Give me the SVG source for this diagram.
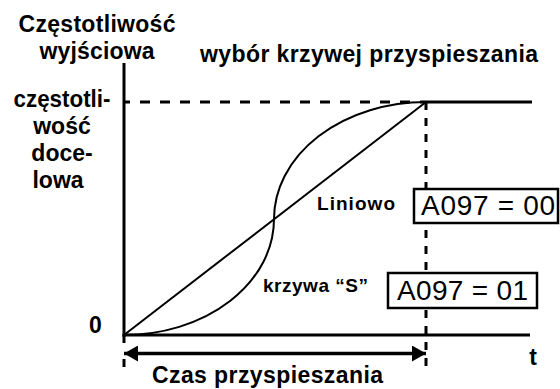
<svg xmlns="http://www.w3.org/2000/svg" width="560" height="389" viewBox="0 0 560 389">
<style>
  .b { font-family: "Liberation Sans", Arial, sans-serif; font-weight: bold; fill: #000; }
  .r { font-family: "Liberation Sans", Arial, sans-serif; fill: #000; }
  .ax { stroke: #000; stroke-width: 3; fill: none; }
  .dash { stroke: #000; stroke-width: 3; fill: none; }
  .crv { stroke: #000; stroke-width: 2; fill: none; }
  .box { stroke: #000; stroke-width: 2.5; fill: #fff; }
</style>
<defs>
  <marker id="ah" markerWidth="14" markerHeight="16" refX="14" refY="8" orient="auto-start-reverse" markerUnits="userSpaceOnUse">
    <path d="M0,0 L14,8 L0,16 Z" fill="#000"/>
  </marker>
</defs>
<rect width="560" height="389" fill="#fff"/>

<g id="labels">
  <text class="b" x="97" y="32" font-size="23" text-anchor="middle" textLength="157" lengthAdjust="spacing">Częstotliwość</text>
  <text class="b" x="97" y="59" font-size="23" text-anchor="middle" textLength="115" lengthAdjust="spacing">wyjściowa</text>
  <text class="b" x="200" y="62" font-size="23" textLength="338" lengthAdjust="spacing">wybór krzywej przyspieszania</text>
  <text class="b" x="62" y="107" font-size="23" text-anchor="middle" textLength="97" lengthAdjust="spacingAndGlyphs">częstotli-</text>
  <text class="b" x="62" y="134" font-size="23" text-anchor="middle">wość</text>
  <text class="b" x="62" y="161" font-size="23" text-anchor="middle">doce-</text>
  <text class="b" x="58" y="188" font-size="23" text-anchor="middle">lowa</text>
  <text class="b" x="95.5" y="333" font-size="23" text-anchor="middle">0</text>
  <text class="b" x="533" y="365" font-size="23" text-anchor="middle">t</text>
  <text class="b" x="267.5" y="383" font-size="23" text-anchor="middle" textLength="231" lengthAdjust="spacing">Czas przyspieszania</text>
</g>

<g id="connectors">
  <line class="ax" x1="124" y1="63" x2="124" y2="336.5"/>
  <line class="ax" x1="122.5" y1="335" x2="530" y2="335"/>
  <line class="dash" x1="124" y1="102" x2="426" y2="102" stroke-dasharray="10 10" stroke-dashoffset="4"/>
  <line class="ax" x1="426" y1="102" x2="532" y2="102"/>
  <line class="dash" x1="426" y1="102" x2="426" y2="367" stroke-dasharray="8 8"/>
  <line class="dash" x1="124" y1="335" x2="124" y2="343"/>
  <line class="dash" x1="124" y1="359" x2="124" y2="367"/>
  <line x1="124" y1="353.5" x2="426" y2="353.5" stroke="#000" stroke-width="3.5" marker-start="url(#ah)" marker-end="url(#ah)"/>
  <line class="crv" x1="124" y1="335" x2="426" y2="102"/>
  <path class="crv" d="M124,335 A150,116 0 0 0 274,219 A152,117 0 0 1 426,102"/>
</g>

<g id="linear">
  <text class="b" x="317" y="210" font-size="19" textLength="78" lengthAdjust="spacing">Liniowo</text>
</g>
<g id="box-00">
  <rect class="box" x="414" y="189" width="144" height="34"/>
  <text class="r" x="421" y="215" font-size="28" textLength="134" lengthAdjust="spacing">A097 = 00</text>
</g>
<g id="s-curve">
  <text class="b" x="263" y="292" font-size="19" textLength="105" lengthAdjust="spacing">krzywa “S”</text>
</g>
<g id="box-01">
  <rect class="box" x="388" y="273" width="149" height="35"/>
  <text class="r" x="397" y="300" font-size="28" textLength="131" lengthAdjust="spacing">A097 = 01</text>
</g>
</svg>
